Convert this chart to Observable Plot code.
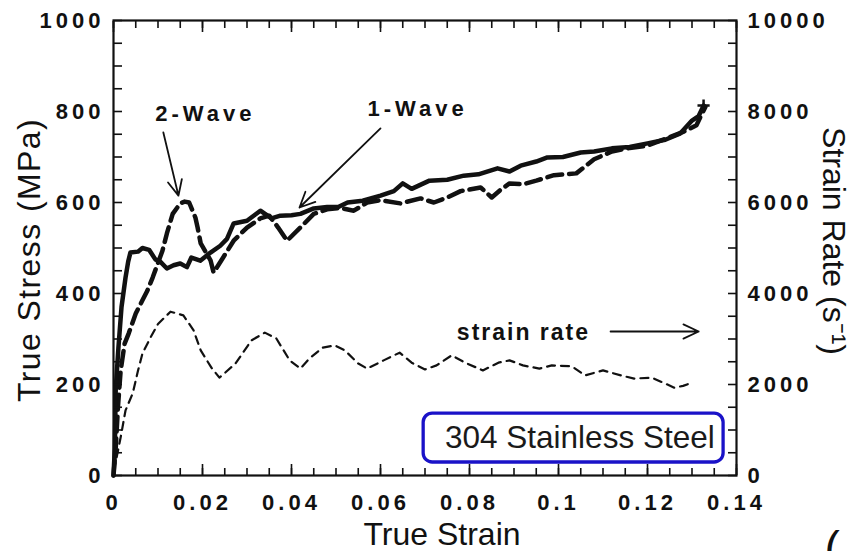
<!DOCTYPE html>
<html><head><meta charset="utf-8">
<script src="https://cdn.jsdelivr.net/npm/d3@7"></script>
<script src="https://cdn.jsdelivr.net/npm/@observablehq/plot@0.6"></script>
<style>
html,body{margin:0;padding:0;background:#fff;}
#chart svg{display:block;}
#chart g[font-weight="bold"]{letter-spacing:4px;}
#chart g[font-weight="600"]{letter-spacing:2px;}
</style></head><body><div id="chart"></div>
<script>
// 1-Wave (solid) true stress, MPa
const oneWaveStrain = [0,0.0003,0.0005,0.0011,0.0018,0.0027,0.0033,0.0038,0.0055,0.0065,0.008,0.0094,0.0105,0.012,0.0135,0.015,0.0165,0.0175,0.0195,0.0218,0.024,0.0255,0.027,0.030,0.033,0.0355,0.0375,0.040,0.042,0.045,0.048,0.0505,0.0526,0.056,0.060,0.063,0.065,0.067,0.071,0.075,0.0787,0.082,0.0863,0.089,0.0915,0.095,0.0975,0.101,0.105,0.108,0.112,0.116,0.120,0.124,0.1274,0.130,0.1315,0.1326];
const oneWaveStress = [0,60,190,280,370,435,470,490,492,500,496,475,470,455,462,466,458,479,472,490,505,520,554,560,582,565,571,572,575,587,590,590,600,604,615,625,642,630,648,650,659,662,675,668,681,690,699,700,710,712,719,722,730,738,752,780,790,813];
// 2-Wave (heavy dashed) true stress, MPa
const twoWaveStrain = [0,0.0005,0.001,0.0016,0.0025,0.0034,0.005,0.0065,0.0076,0.0088,0.011,0.012,0.0133,0.015,0.016,0.017,0.0184,0.0189,0.0196,0.0218,0.0225,0.0245,0.027,0.030,0.033,0.035,0.037,0.039,0.042,0.045,0.048,0.051,0.054,0.057,0.060,0.0645,0.069,0.072,0.075,0.078,0.0825,0.085,0.087,0.089,0.092,0.095,0.099,0.104,0.108,0.112,0.116,0.120,0.124,0.128,0.131,0.133];
const twoWaveStress = [0,60,150,230,290,312,356,385,406,435,494,532,575,598,602,600,567,545,510,473,446,477,516,545,565,571,545,516,545,575,585,588,582,600,605,598,609,600,611,625,633,611,628,642,640,648,660,664,695,712,720,725,740,755,770,810];
// strain rate (thin dashed), 1/s
const rateStrain = [0,0.0005,0.0016,0.0027,0.0043,0.0055,0.0065,0.0083,0.0100,0.0128,0.0157,0.018,0.0196,0.022,0.0238,0.0274,0.031,0.034,0.0366,0.0396,0.042,0.044,0.047,0.0497,0.052,0.055,0.057,0.0607,0.0643,0.067,0.070,0.0726,0.076,0.079,0.083,0.0865,0.089,0.092,0.0957,0.0985,0.103,0.106,0.110,0.114,0.117,0.121,0.124,0.126,0.128,0.130];
const rateValues = [100,300,835,1430,1800,2300,2680,3030,3330,3600,3520,3190,2750,2370,2150,2460,2970,3140,3010,2530,2350,2570,2810,2860,2750,2460,2350,2530,2700,2480,2330,2420,2640,2480,2310,2480,2530,2420,2350,2420,2400,2200,2310,2200,2130,2150,2020,1930,1970,2040];

// tick labels
const xTickLabels = [0,0.02,0.04,0.06,0.08,0.1,0.12,0.14];
const stressTickLabels = [0,200,400,600,800,1000];
const rateTickLabels = [0,2000,4000,6000,8000,10000];

// annotations
const waveLabels = ["2-Wave","1-Wave"];
const waveX = [0.0202,0.0679];
const waveY = [795,805];
const rateLabel = "strain rate";
const rateLabelX = 0.0919, rateLabelY = 314;
const arrowFrom = [[0.0112,754],[0.0600,763],[0.1117,316.5]];
const arrowTo = [[0.0146,615],[0.0418,589],[0.1315,316.5]];
const boxLabel = "304 Stainless Steel";

const oneWave = oneWaveStrain.map((s,i)=>({strain:s, stress:oneWaveStress[i]}));
const twoWave = twoWaveStrain.map((s,i)=>({strain:s, stress:twoWaveStress[i]}));
const rate = rateStrain.map((s,i)=>({strain:s, rate:rateValues[i]}));
const waves = waveLabels.map((t,i)=>({t, x:waveX[i], y:waveY[i]}));
const arrows = arrowFrom.map((a,i)=>({x1:a[0],y1:a[1],x2:arrowTo[i][0],y2:arrowTo[i][1]}));
const endPoint = oneWave.slice(-1);

const xMinor = d3.range(29).map(i=>i*0.005);
const yMinor = d3.range(21).map(i=>i*50);
const ink = "#111";
const tickFont = {fontSize:22, fontWeight:"bold"};

const chart = Plot.plot({
  width:860, height:551,
  marginLeft:113, marginRight:124, marginTop:20, marginBottom:76,
  x:{domain:[0,0.14]},
  y:{domain:[0,1000]},
  style:{fontFamily:"'Liberation Sans', Arial, sans-serif", color:ink, background:"white"},
  marks:[
    Plot.line(rate, {x:"strain", y:d=>d.rate/10, stroke:ink, strokeWidth:2.2, strokeDasharray:"8,6"}),
    Plot.line(twoWave, {x:"strain", y:"stress", stroke:ink, strokeWidth:4.5, strokeDasharray:"15,7"}),
    Plot.line(oneWave, {x:"strain", y:"stress", stroke:ink, strokeWidth:4.5}),
    Plot.dot(endPoint, {x:"strain", y:"stress", symbol:"plus", r:4, stroke:ink, strokeWidth:2.5}),
    Plot.frame({stroke:ink, strokeWidth:2.2}),
    // inward ticks
    Plot.axisX(xMinor, {anchor:"bottom", tickSize:-7, text:null, label:null, strokeWidth:1.6}),
    Plot.axisX(xTickLabels, {anchor:"bottom", tickSize:-11, text:null, label:null, strokeWidth:1.6}),
    Plot.axisX(xMinor, {anchor:"top", tickSize:-7, text:null, label:null, strokeWidth:1.6}),
    Plot.axisX(xTickLabels, {anchor:"top", tickSize:-11, text:null, label:null, strokeWidth:1.6}),
    Plot.axisY(yMinor, {anchor:"left", tickSize:-9, text:null, label:null, strokeWidth:1.6}),
    Plot.axisY(yMinor, {anchor:"right", tickSize:-9, text:null, label:null, strokeWidth:1.6}),
    // tick labels
    Plot.axisX(xTickLabels, {anchor:"bottom", tickSize:0, tickPadding:19, label:null, tickFormat:d=>String(d), ...tickFont}),
    Plot.axisY(stressTickLabels, {anchor:"left", tickSize:0, tickPadding:9, label:null, tickFormat:d=>String(d), ...tickFont}),
    Plot.axisY(rateTickLabels.map(v=>v/10), {anchor:"right", tickSize:0, tickPadding:11, label:null, tickFormat:d=>String(Math.round(d*10)), ...tickFont}),
    // axis titles
    Plot.text(["True Strain"], {frameAnchor:"bottom", dx:17, dy:59, lineAnchor:"middle", fontSize:32, fill:ink}),
    Plot.text(["True Stress (MPa)"], {frameAnchor:"left", dx:-84, dy:12, rotate:-90, textAnchor:"middle", lineAnchor:"middle", fontSize:32, fill:ink}),
    Plot.text(["Strain Rate (s\u207B\u00B9)"], {frameAnchor:"right", dx:97, dy:-7, rotate:90, textAnchor:"middle", lineAnchor:"middle", fontSize:32, fill:ink}),
    // annotations
    Plot.arrow(arrows, {x1:"x1", y1:"y1", x2:"x2", y2:"y2", stroke:ink, strokeWidth:1.8, headLength:14, headAngle:50}),
    Plot.text(waves, {x:"x", y:"y", text:"t", dx:2, lineAnchor:"middle", fill:ink, ...tickFont}),
    Plot.text([rateLabel], {x:rateLabelX, y:rateLabelY, dx:1, lineAnchor:"middle", fill:ink, fontSize:23, fontWeight:"600"}),
    Plot.rect([boxLabel], {x1:0.0697, x2:0.1371, y1:28.6, y2:136, stroke:"#1a12c8", strokeWidth:3.3, fill:"white", rx:9, ry:9}),
    Plot.text([boxLabel], {x:0.1048, y:83.5, lineAnchor:"middle", fontSize:31.5, fill:"#1a1a1a"}),
    Plot.text(["("], {frameAnchor:"bottom-right", dx:88, dy:56, lineAnchor:"top", textAnchor:"start", fontSize:46, fill:ink})
  ]
});
d3.select(chart).selectAll("text")
  .filter(function(){ return this.textContent === "True Stress (MPa)"; })
  .style("letter-spacing","1.4px");
document.getElementById("chart").appendChild(chart);
</script>
</body></html>
